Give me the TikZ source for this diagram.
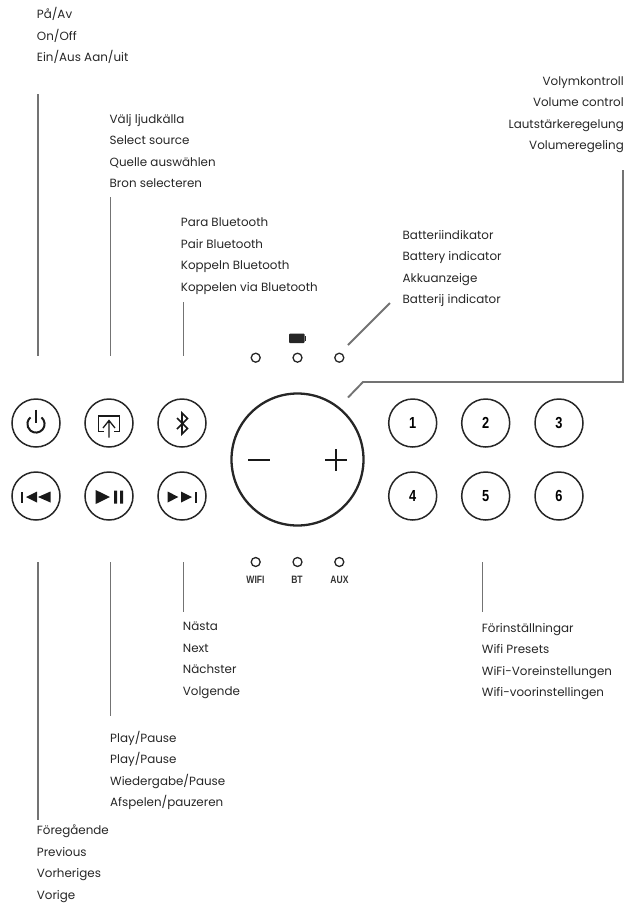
\documentclass[tikz,border=0pt]{standalone}
\usepackage{fontspec}
\setmainfont{Poppins}
\usetikzlibrary{positioning}
\newcommand{\slim}[1]{\scalebox{0.8}[1]{#1}}
\tikzset{
  btn/.style={draw=black!85,line width=1.5pt,circle,minimum size=48pt,inner sep=0pt,font=\fontspec{Liberation Sans}\bfseries\fontsize{16}{16}\selectfont},
  led/.style={draw=black!85,line width=1.3pt,circle,minimum size=9pt,inner sep=0pt},
  lbl/.style={inner sep=0pt,text=black!85,font=\fontsize{11.9}{21.5}\selectfont,align=left,anchor=north west,execute at begin node=\rule{0pt}{10pt}},
  lblr/.style={lbl,align=right,anchor=north east},
  tag/.style={inner sep=0pt,text=black!80,font=\fontspec{Liberation Sans}\bfseries\fontsize{10.7}{11}\selectfont},
  leader/.style={draw=black!55,line width=1.9pt},
  icon/.style={black!90,line width=1.3pt}
}
\begin{document}
\begin{tikzpicture}[x=1pt,y=-1pt]
\useasboundingbox (0,0) rectangle (628,903);
% buttons
\node [btn] (power) at (36,423) {};
\node [btn] (source) at (109,423) {};
\node [btn] (pair) at (182,423) {};
\node [btn] (prev) at (36,496) {};
\node [btn] (play) at (109,496) {};
\node [btn] (next) at (182,496) {};
\node [btn] (one) at (412.7,423) {\slim{1}};
\node [btn] (two) at (485.7,423) {\slim{2}};
\node [btn] (three) at (559,423) {\slim{3}};
\node [btn] (four) at (412.7,496) {\slim{4}};
\node [btn] (five) at (485.7,496) {\slim{5}};
\node [btn] (six) at (559,496) {\slim{6}};
\node [draw=black!85,line width=2.3pt,circle,minimum size=132pt,inner sep=0pt] (dial) at (297.5,459.5) {};
% leds
\node [led] (ledA) at (255.7,357.7) {};
\node [led] (ledB) at (297.5,357.7) {};
\node [led] (ledC) at (339.3,357.7) {};
\node [led] (ledW) at (255.7,562) {};
\node [led] (ledT) at (297.5,562) {};
\node [led] (ledX) at (339.3,562) {};
\node [tag] (wifi) at (255.5,580) {\slim{WIFI}};
\node [tag] (bt) at (297,580) {\slim{BT}};
\node [tag] (aux) at (339.5,580) {\slim{AUX}};
% icons
\fill [black!85,rounded corners=1pt] (289,333.5) rectangle (304.7,343);
\fill [black!85] (304.5,336) rectangle (306,341);
\draw [icon,line width=2pt] (248,460) -- (270,460);
\draw [icon,line width=1.8pt] (325,460) -- (347,460) (336,449) -- (336,471);
\draw [icon,line width=2pt] (41.5,417.4) arc (-50:230:8.6);
\draw [icon,line width=2pt] (36,409.5) -- (36,423);
\draw [icon] (104,431.5) -- (98.5,431.5) -- (98.5,416) -- (119.5,416) -- (119.5,431.5) -- (114,431.5);
\draw [icon] (109,437.5) -- (109,421) (103,428) -- (109,420.5) -- (115,428);
\draw [icon,line width=1.6pt] (177,418) -- (187.5,428.5) -- (182,434) -- (182,413) -- (187.5,418.5) -- (177,429);
\fill [black!90] (26,497) -- (37,491.5) -- (37,502.5) -- cycle (38,497) -- (50.5,491.5) -- (50.5,502.5) -- cycle;
\fill [black!90] (21,491.5) rectangle (23,502.5);
\fill [black!90] (95.7,490) -- (110,497) -- (95.7,504) -- cycle;
\fill [black!90] (114,490.5) rectangle (117,503.5) (120,490.5) rectangle (123,503.5);
\fill [black!90] (167.7,491.5) -- (178.3,497) -- (167.7,502.5) -- cycle (181,491.5) -- (192,497) -- (181,502.5) -- cycle;
\fill [black!90] (194.7,491.5) rectangle (196.7,502.5);
% labels
\node [lbl] (lPower) at (36.7,7.5) {På/Av\\On/Off\\Ein/Aus Aan/uit};
\node [lbl] (lSource) at (109.5,114) {Välj ljudkälla\\Select source\\Quelle auswählen\\Bron selecteren};
\node [lbl] (lPair) at (180.7,217.7) {Para Bluetooth\\Pair Bluetooth\\Koppeln Bluetooth\\Koppelen via Bluetooth};
\node [lbl] (lBatt) at (402.5,230) {Batteriindikator\\Battery indicator\\Akkuanzeige\\Batterij indicator};
\node [lblr] (lVol) at (624,76) {Volymkontroll\\Volume control\\Lautstärkeregelung\\Volumeregeling};
\node [lbl] (lNext) at (182.7,622) {Nästa\\Next\\Nächster\\Volgende};
\node [lbl] (lPlay) at (110,730.7) {Play/Pause\\Play/Pause\\Wiedergabe/Pause\\Afspelen/pauzeren};
\node [lbl] (lPrev) at (36.7,825) {Föregående\\Previous\\Vorheriges\\Vorige};
\node [lbl] (lPre) at (481.7,623) {Förinställningar\\Wifi Presets\\WiFi-Voreinstellungen\\Wifi-voorinstellingen};
% leaders
\coordinate (aPower) at (37.7,94);
\coordinate (bPower) at (37.7,356);
\coordinate (aSource) at (110.5,197);
\coordinate (bSource) at (110.5,356);
\coordinate (aPair) at (183.5,302);
\coordinate (bPair) at (183.5,356);
\coordinate (aBatt) at (390,303);
\coordinate (bBatt) at (348,345);
\coordinate (aVol) at (623,170);
\coordinate (cVol) at (623,382);
\coordinate (bVol) at (363,382);
\coordinate (dVol) at (348,397.5);
\coordinate (aPrev) at (37.7,562);
\coordinate (bPrev) at (37.7,820);
\coordinate (aPlay) at (110.5,562);
\coordinate (bPlay) at (110.5,716);
\coordinate (aNext) at (183.5,562);
\coordinate (bNext) at (183.5,612);
\coordinate (aPre) at (482.5,562);
\coordinate (bPre) at (482.5,612);
\draw [leader] (aPower) -- (bPower);
\draw [leader] (aSource) -- (bSource);
\draw [leader] (aPair) -- (bPair);
\draw [leader] (aBatt) -- (bBatt);
\draw [leader] (aVol) -- (cVol) -- (bVol) -- (dVol);
\draw [leader] (aPrev) -- (bPrev);
\draw [leader] (aPlay) -- (bPlay);
\draw [leader] (aNext) -- (bNext);
\draw [leader] (aPre) -- (bPre);
\end{tikzpicture}
\end{document}
